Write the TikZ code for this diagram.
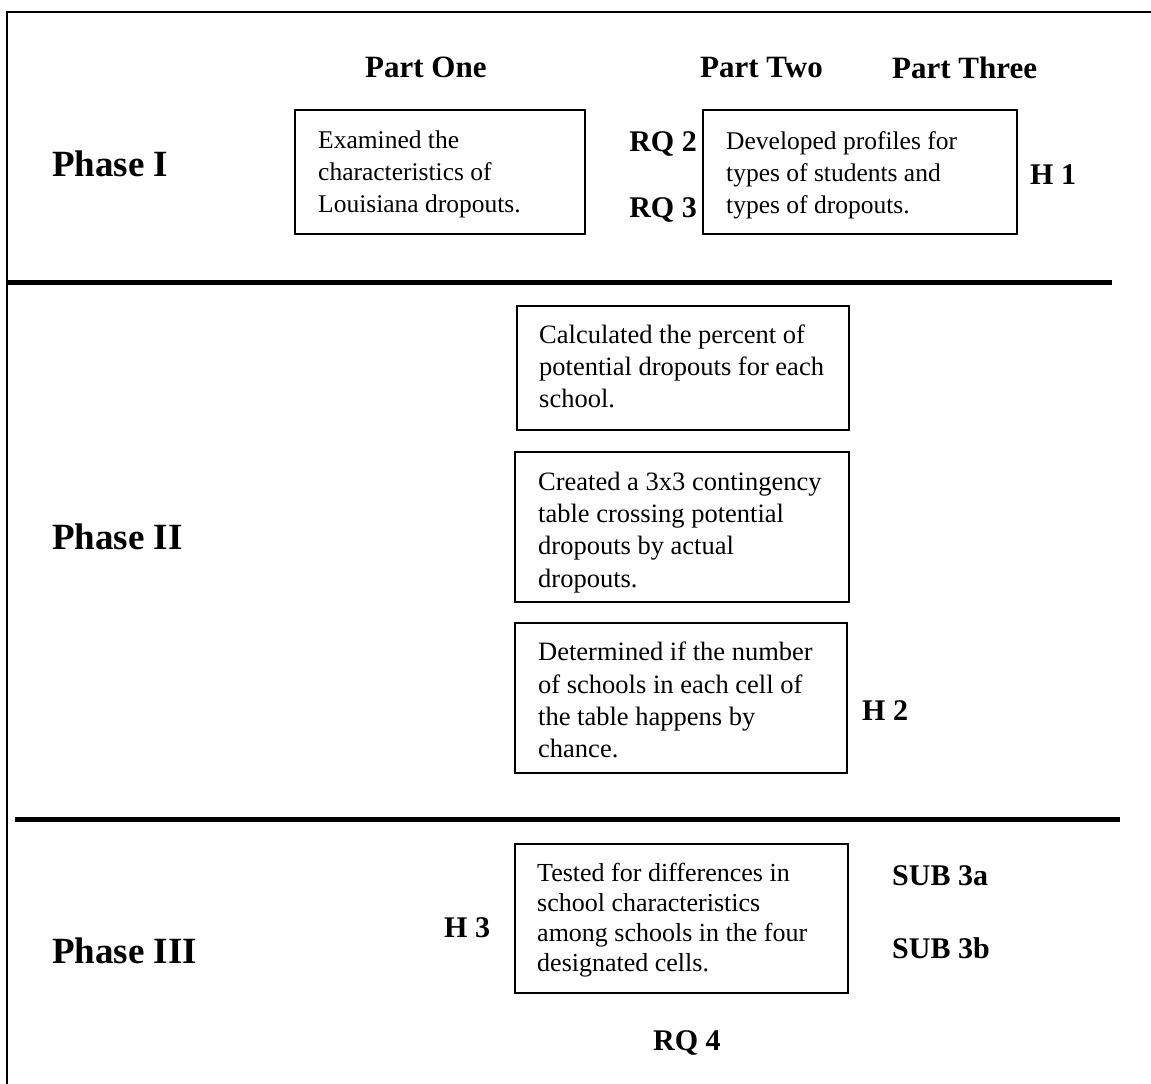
\documentclass[tikz,border=0pt]{standalone}
\usepackage{fontspec}
\setmainfont{Liberation Serif}
\begin{document}
\begin{tikzpicture}[x=1pt,y=-1pt,
  box/.style={draw=black,line width=1.6pt,inner sep=0pt,outer sep=0pt,anchor=north west},
  txtA/.style={inner sep=0pt,anchor=base west,align=left,font={\fontsize{25.5}{32}\selectfont}},
  txtB/.style={inner sep=0pt,anchor=base west,align=left,font={\fontsize{26.5}{32.2}\selectfont}},
  txtC/.style={inner sep=0pt,anchor=base west,align=left,font={\fontsize{26}{30}\selectfont}},
  lab/.style={inner sep=0pt,font={\fontsize{30}{36}\selectfont\bfseries}},
  part/.style={inner sep=0pt,anchor=base west,font={\fontsize{31}{36}\selectfont\bfseries}},
  phase/.style={inner sep=0pt,anchor=base west,font={\fontsize{37}{44}\selectfont\bfseries}},
  border/.style={line width=2pt,black},
  divider/.style={line width=5pt,black}]
\useasboundingbox (0,0) rectangle (1151,1084);
% frame
\draw[border] (7,1084) -- (7,12) -- (1151,12);
\draw[divider] (7,282) -- (1112,282);
\draw[divider] (15,819) -- (1120,819);
% headings
\node[part] (p1) at (365,77) {Part One};
\node[part] (p2) at (700,77) {Part Two};
\node[part] (p3) at (892,78) {Part Three};
% Phase I
\node[phase] (ph1) at (52,176) {Phase I};
\node[box,minimum width=290pt,minimum height=124pt] (b1) at (295,110) {};
\node[txtA] (t1) at (318,212) {Examined the\\characteristics of\\Louisiana dropouts.};
\node[box,minimum width=314pt,minimum height=124pt] (b2) at (703,110) {};
\node[txtA] (t2) at (726,213) {Developed profiles for\\types of students and\\types of dropouts.};
\node[lab,anchor=base east] (rq2) at (697,151) {RQ 2};
\node[lab,anchor=base east] (rq3) at (697,217) {RQ 3};
\node[lab,anchor=base west] (h1) at (1030,184) {H 1};
% Phase II
\node[phase] (ph2) at (52,549) {Phase II};
\node[box,minimum width=332pt,minimum height=124pt] (bA) at (517,306) {};
\node[txtB] (tA) at (539,407.5) {Calculated the percent of\\potential dropouts for each\\school.};
\node[box,minimum width=334pt,minimum height=150pt] (bB) at (515,452) {};
\node[txtB] (tB) at (538,587) {Created a 3x3 contingency\\table crossing potential\\dropouts by actual\\dropouts.};
\node[box,minimum width=332pt,minimum height=150pt] (bC) at (515,623) {};
\node[txtB] (tC) at (538,757.5) {Determined if the number\\of schools in each cell of\\the table happens by\\chance.};
\node[lab,anchor=base west] (h2) at (862,720) {H 2};
% Phase III
\node[phase] (ph3) at (52,963) {Phase III};
\node[box,minimum width=333pt,minimum height=149pt] (bD) at (515,844) {};
\node[txtC] (tD) at (537,971) {Tested for differences in\\school characteristics\\among schools in the four\\designated cells.};
\node[lab,anchor=base west] (h3) at (444,937) {H 3};
\node[lab,anchor=base west] (s3a) at (892,885) {SUB 3a};
\node[lab,anchor=base west] (s3b) at (892,958) {SUB 3b};
\node[lab,anchor=base west] (rq4) at (653,1050) {RQ 4};
\end{tikzpicture}
\end{document}
